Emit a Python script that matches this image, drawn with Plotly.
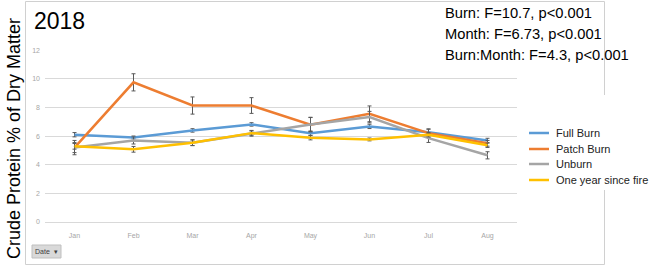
import plotly.graph_objects as go

months = ["Jan", "Feb", "Mar", "Apr", "May", "Jun", "Jul", "Aug"]
series_names = ["Full Burn", "Patch Burn", "Unburn", "One year since fire"]

full_burn = [6.10, 5.91, 6.40, 6.82, 6.21, 6.68, 6.28, 5.70]
patch_burn = [5.20, 9.76, 8.14, 8.14, 6.80, 7.56, 6.21, 5.50]
unburn = [5.20, 5.70, 5.54, 6.20, 6.82, 7.33, 5.86, 4.66]
one_year = [5.29, 5.08, 5.54, 6.21, 5.89, 5.77, 6.10, 5.36]

full_burn_err = [0.15, 0.10, 0.12, 0.12, 0.15, 0.15, 0.20, 0.15]
patch_burn_err = [0.50, 0.60, 0.60, 0.55, 0.50, 0.55, 0.30, 0.20]
unburn_err = [0.35, 0.25, 0.20, 0.20, 0.50, 0.40, 0.30, 0.25]
one_year_err = [0.20, 0.20, 0.20, 0.15, 0.15, 0.10, 0.15, 0.15]

y_ticks = [0, 2, 4, 6, 8, 10, 12]

stats_lines = ["Burn: F=10.7, p<0.001", "Month: F=6.73, p<0.001", "Burn:Month: F=4.3, p<0.001"]

colors = ["#5B9BD5", "#ED7D31", "#A5A5A5", "#FFC000"]
values = [full_burn, patch_burn, unburn, one_year]
errors = [full_burn_err, patch_burn_err, unburn_err, one_year_err]

fig = go.Figure()
for name, vals, errs, col in zip(series_names, values, errors, colors):
    fig.add_trace(go.Scatter(
        x=months, y=vals, name=name, mode="lines",
        line=dict(color=col, width=2.5),
        error_y=dict(type="data", array=errs, visible=True, color="#595959", thickness=1, width=2),
        showlegend=False,
    ))

W, H = 652, 276
L, R, T, B = 45, 135, 50, 54
pw, ph = W - L - R, H - T - B

def px(xp):
    return (xp - L) / pw

def py(yp):
    return (H - B - yp) / ph

shapes = []
annotations = []

# chart frame
shapes.append(dict(type="rect", xref="paper", yref="paper", x0=px(25.5), x1=px(604.5), y0=py(264.5), y1=py(1.5),
                   line=dict(color="#d0d0d0", width=1), fillcolor="rgba(0,0,0,0)", layer="above"))
# white box covering frame behind legend
shapes.append(dict(type="rect", xref="paper", yref="paper", x0=px(527), x1=px(652), y0=py(190), y1=py(95),
                   line=dict(width=0), fillcolor="white", layer="above"))

# manual legend
leg_y = [133, 149, 164, 180]
for name, col, yy in zip(series_names, colors, leg_y):
    shapes.append(dict(type="line", xref="paper", yref="paper", x0=px(529), x1=px(549), y0=py(yy), y1=py(yy),
                       line=dict(color=col, width=2.5), layer="above"))
    annotations.append(dict(text=name, xref="paper", yref="paper", x=px(554), y=py(yy), xanchor="left",
                            yanchor="middle", showarrow=False, font=dict(size=11, color="#222222",
                                                                         family="Liberation Sans")))

# title
annotations.append(dict(text="2018", xref="paper", yref="paper", x=px(32), y=py(21), xanchor="left",
                        yanchor="middle", showarrow=False,
                        font=dict(size=23, color="black", family="Liberation Sans")))
# y axis title
annotations.append(dict(text="Crude Protein % of Dry Matter", xref="paper", yref="paper", x=px(14), y=py(139),
                        xanchor="center", yanchor="middle", textangle=-90, showarrow=False,
                        font=dict(size=18, color="black", family="Liberation Sans")))
# stats
for i, s in enumerate(stats_lines):
    annotations.append(dict(text=s, xref="paper", yref="paper", x=px(443), y=py(13 + 21 * i), xanchor="left",
                            yanchor="middle", showarrow=False,
                            font=dict(size=14.7, color="black", family="Liberation Sans")))
# Date button
shapes.append(dict(type="rect", xref="paper", yref="paper", x0=px(32), x1=px(61), y0=py(258), y1=py(245),
                   line=dict(color="#bfbfbf", width=1), fillcolor="#d9d9d9"))
annotations.append(dict(text="Date  \u25be", xref="paper", yref="paper", x=px(46.5), y=py(251.5), xanchor="center",
                        yanchor="middle", showarrow=False,
                        font=dict(size=7, color="#404040", family="Liberation Sans")))

fig.update_layout(
    width=W, height=H, autosize=False,
    margin=dict(l=L, r=R, t=T, b=B),
    paper_bgcolor="white", plot_bgcolor="white",
    shapes=shapes, annotations=annotations,
    xaxis=dict(type="category", categoryorder="array", categoryarray=months, range=[-0.5, 7.5],
               showgrid=False, showline=False, zeroline=False, ticks="",
               tickfont=dict(size=7, color="#a6a6a6", family="Liberation Sans"), ticklabelstandoff=8),
    yaxis=dict(range=[0, 12.02], tickvals=y_ticks, showgrid=True, gridcolor="#d9d9d9", gridwidth=1,
               zeroline=True, zerolinecolor="#d9d9d9", zerolinewidth=1, showline=False, ticks="",
               tickfont=dict(size=7, color="#a6a6a6", family="Liberation Sans"), ticklabelstandoff=4),
    showlegend=False,
)

fig.write_html("out.html", config={"displayModeBar": False},
               post_script="document.body.style.margin='0';")
